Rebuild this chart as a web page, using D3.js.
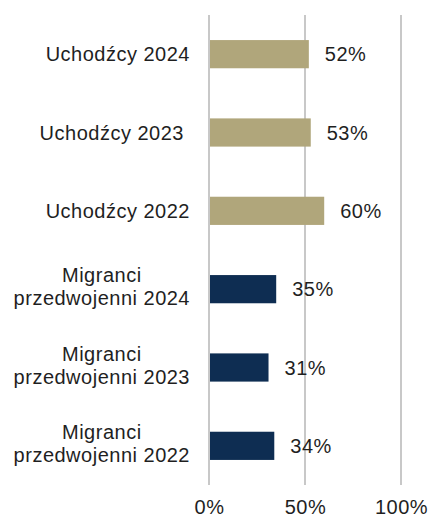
<!DOCTYPE html>
<html>
<head>
<meta charset="utf-8">
<script src="https://cdn.jsdelivr.net/npm/d3@7"></script>
<style>
	body { margin: 0; background: #fff; }
	text { font-family: "Liberation Sans", Arial, sans-serif; font-size: 20px; fill: #1f1f1f; letter-spacing: 0.5px; white-space: pre; }
</style>
</head>
<body>
<svg id="chart" width="431" height="518"></svg>
<script>
// --------- data -----------
var categories = [
	"Uchodźcy 2024",
	"Uchodźcy 2023 ",
	"Uchodźcy 2022",
	"Migranci|przedwojenni 2024",
	"Migranci|przedwojenni 2023",
	"Migranci|przedwojenni 2022"
];
var values = [52, 53, 60, 35, 31, 34];
var groups = ["uchodzcy", "uchodzcy", "uchodzcy", "migranci", "migranci", "migranci"];
var tickValues = [0, 50, 100];

var colors = { uchodzcy: "#b0a67b", migranci: "#0e2d52" };

var svg = d3.select("#chart");

var x = d3.scaleLinear().domain([0, 100]).range([209, 401]);
var y = d3.scaleBand()
	.domain(categories)
	.range([15, 485])
	.paddingInner(0.64)
	.paddingOuter(0.32);

// gridlines
svg.append("g")
	.selectAll("line")
	.data(tickValues)
	.enter()
	.append("line")
	.attr("x1", function(d) { return x(d); })
	.attr("x2", function(d) { return x(d); })
	.attr("y1", 15)
	.attr("y2", 485)
	.attr("stroke", "#c8c8c8")
	.attr("stroke-width", 2);

// bars
svg.append("g")
	.selectAll("rect")
	.data(categories)
	.enter()
	.append("rect")
	.attr("x", x(0) + 1)
	.attr("y", function(d) { return y(d); })
	.attr("width", function(d, i) { return x(values[i]) - x(0) - 1; })
	.attr("height", y.bandwidth())
	.attr("fill", function(d, i) { return colors[groups[i]]; });

// value labels
svg.append("g")
	.selectAll("text")
	.data(categories)
	.enter()
	.append("text")
	.attr("x", function(d, i) { return x(values[i]) + 16; })
	.attr("y", function(d) { return y(d) + y.bandwidth() / 2; })
	.attr("dy", "0.36em")
	.text(function(d, i) { return values[i] + "%"; });

// category labels, centred lines, right edge at labelRight
var labelRight = 190;
var lineHeight = 23;
svg.append("g")
	.selectAll("text")
	.data(categories)
	.enter()
	.append("text")
	.attr("text-anchor", "middle")
	.each(function(d) {
		var lines = d.split("|");
		var el = d3.select(this);
		var cy = y(d) + y.bandwidth() / 2;
		var first = cy + 7 - (lines.length - 1) * lineHeight / 2 - (lines.length > 1 ? 2.5 : 0);
		lines.forEach(function(line, k) {
			el.append("tspan").attr("y", first + k * lineHeight).text(line);
		});
		var w = 0;
		el.selectAll("tspan").each(function() { w = Math.max(w, this.getComputedTextLength()); });
		el.selectAll("tspan").attr("x", labelRight - w / 2);
	});

// x axis
var axis = d3.axisBottom(x)
	.tickValues(tickValues)
	.tickSize(0)
	.tickPadding(15)
	.tickFormat(function(d) { return d + "%"; });

var axisG = svg.append("g")
	.attr("transform", "translate(0,485)")
	.call(axis);
axisG.select(".domain").remove();
axisG.selectAll("text")
	.attr("font-family", null)
	.attr("font-size", null)
	.style("fill", "#1f1f1f");
</script>
</body>
</html>
